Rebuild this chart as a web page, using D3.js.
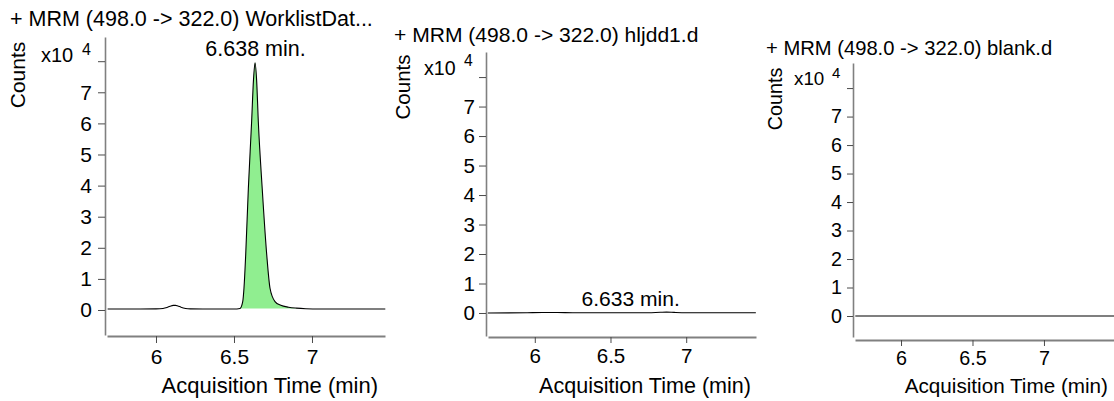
<!DOCTYPE html>
<html>
<head>
<meta charset="utf-8">
<script src="https://cdn.jsdelivr.net/npm/d3@7"></script>
<style>
  html, body { margin: 0; padding: 0; background: #fff; }
  svg { display: block; font-family: "Liberation Sans", Arial, sans-serif; }
</style>
</head>
<body>
<svg id="chart" width="1114" height="401"></svg>
<script>
// ---------- data ----------
const panelTitles = [
  "+ MRM (498.0 -> 322.0) WorklistDat...",
  "+ MRM (498.0 -> 322.0) hljdd1.d",
  "+ MRM (498.0 -> 322.0) blank.d"
];
const peakLabels = ["6.638 min.", "6.633 min.", null];
const peakTimes = [6.638, 6.633, null];
const xTicks = [6, 6.5, 7];
const xTickLabels = ["6", "6.5", "7"];
const yTicks = [0, 1, 2, 3, 4, 5, 6, 7, 8];
const yTickLabels = ["0", "1", "2", "3", "4", "5", "6", "7", ""];
const xAxisTitle = "Acquisition Time (min)";
const yAxisTitle = "Counts";
const yScaleLabel = "x10";
const yScaleExp = "4";

// sample 1 (counts x10^4)
const times1 = [5.69, 5.80, 5.90, 6.00, 6.045, 6.07, 6.09, 6.11, 6.125, 6.14, 6.16, 6.19, 6.22, 6.30, 6.40, 6.50,
  6.538, 6.556, 6.564, 6.575, 6.592, 6.613, 6.625, 6.635, 6.645, 6.656, 6.681, 6.710, 6.731, 6.763,
  6.80, 6.85, 6.90, 6.96, 7.05, 7.20, 7.47];
const counts1 = [0.03, 0.03, 0.03, 0.035, 0.05, 0.08, 0.12, 0.15, 0.15, 0.13, 0.09, 0.05, 0.035, 0.03, 0.03, 0.03,
  0.05, 0.27, 0.7, 1.77, 3.9, 6.05, 7.4, 7.95, 7.4, 6.05, 3.9, 1.77, 0.7, 0.27,
  0.15, 0.09, 0.06, 0.04, 0.03, 0.03, 0.03];
const fillStart1 = 6.538, fillEnd1 = 6.96;

// sample 2 (hljdd1.d)
const times2 = [5.69, 5.95, 6.05, 6.15, 6.25, 6.50, 6.75, 6.83, 6.87, 6.92, 7.00, 7.46];
const counts2 = [0.0, 0.01, 0.015, 0.015, 0.01, 0.01, 0.01, 0.025, 0.03, 0.02, 0.01, 0.01];

// sample 3 (blank.d)
const times3 = [5.68, 6.00, 6.50, 7.00, 7.49];
const counts3 = [0.0, 0.0, 0.0, 0.0, 0.0];

const seriesTimes = [times1, times2, times3];
const seriesCounts = [counts1, counts2, counts3];

// ---------- layout ----------
const layouts = [
  { s: 1.0, xDom: [5.686, 7.468], xRange: [107, 385], yDom: [-0.804, 8.778], yRange: [335, 37],
    xAxisY: 336, yAxisX: 105, yTick: 7, yPad: 6, xTick: 7, xPad: 6,
    titleX: 10, titleY: 26, countsX: 25, countsY: 75,
    x10X: 41, x10Y: 62, expX: 82, expY: 55, axTitleX: 378, axTitleY: 393 },
  { s: 0.98, xDom: [5.691, 7.461], xRange: [488, 756], yDom: [-0.78, 8.85], yRange: [336, 52],
    xAxisY: 337, yAxisX: 486, yTick: 7, yPad: 4, xTick: 6, xPad: 5,
    titleX: 394, titleY: 42, countsX: 410, countsY: 87,
    x10X: 424, x10Y: 75, expX: 464, expY: 66, axTitleX: 751, axTitleY: 393 },
  { s: 0.94, xDom: [5.678, 7.490], xRange: [855, 1114], yDom: [-0.737, 8.88], yRange: [337, 63],
    xAxisY: 340, yAxisX: 853, yTick: 6, yPad: 5, xTick: 6, xPad: 5,
    titleX: 766, titleY: 55, countsX: 782, countsY: 99,
    x10X: 794, x10Y: 85, expX: 832, expY: 78, axTitleX: 1108, axTitleY: 393 }
];
const baseFont = { title: 21.5, yTick: 21, xTick: 21, axTitle: 22, counts: 21, x10: 20, exp: 16, peak: 21.5 };

const svg = d3.select("#chart");

layouts.forEach((L, i) => {
  const f = k => baseFont[k] * L.s;
  const g = svg.append("g");
  const x = d3.scaleLinear().domain(L.xDom).range(L.xRange);
  const y = d3.scaleLinear().domain(L.yDom).range(L.yRange);

  // title
  g.append("text").attr("x", L.titleX).attr("y", L.titleY)
    .attr("font-size", f("title")).attr("fill", "#000").text(panelTitles[i]);

  // y axis
  const yAxis = d3.axisLeft(y).tickValues(yTicks)
    .tickFormat((d, k) => yTickLabels[k]).tickSize(L.yTick).tickPadding(L.yPad).tickSizeOuter(0);
  const ya = g.append("g").attr("transform", `translate(${L.yAxisX},0)`).call(yAxis);
  ya.select(".domain").attr("stroke", "#808080").attr("stroke-width", 1.6);
  ya.selectAll(".tick line").attr("stroke", "#4a4a4a");
  ya.selectAll(".tick text").attr("font-size", f("yTick")).attr("fill", "#000")
    .attr("font-family", "Liberation Sans, Arial, sans-serif");

  // x axis
  const xAxis = d3.axisBottom(x).tickValues(xTicks)
    .tickFormat((d, k) => xTickLabels[k]).tickSize(L.xTick).tickPadding(L.xPad).tickSizeOuter(0);
  const xa = g.append("g").attr("transform", `translate(0,${L.xAxisY})`).call(xAxis);
  xa.select(".domain").attr("stroke", "#808080").attr("stroke-width", 2);
  xa.selectAll(".tick line").attr("stroke", "#4a4a4a");
  xa.selectAll(".tick text").attr("font-size", f("xTick")).attr("fill", "#000")
    .attr("font-family", "Liberation Sans, Arial, sans-serif");

  // axis titles
  g.append("text").attr("x", L.axTitleX).attr("y", L.axTitleY)
    .attr("text-anchor", "end").attr("font-size", f("axTitle")).text(xAxisTitle);
  g.append("text").attr("transform", `translate(${L.countsX},${L.countsY}) rotate(-90)`)
    .attr("text-anchor", "middle").attr("font-size", f("counts")).text(yAxisTitle);
  g.append("text").attr("x", L.x10X).attr("y", L.x10Y).attr("font-size", f("x10")).text(yScaleLabel);
  g.append("text").attr("x", L.expX).attr("y", L.expY).attr("font-size", f("exp")).text(yScaleExp);

  // data
  const pts = seriesTimes[i].map((t, k) => ({ t, v: seriesCounts[i][k] }));
  if (i === 0) {
    const fillPts = pts.filter(p => p.t >= fillStart1 && p.t <= fillEnd1);
    const base = fillPts[0].v;
    const area = d3.area().x(p => x(p.t)).y0(y(base)).y1(p => y(p.v)).curve(d3.curveMonotoneX);
    g.append("path").datum(fillPts).attr("d", area)
      .attr("fill", "#90ee90").attr("stroke", "none");
  }
  const line = d3.line().x(p => x(p.t)).y(p => y(p.v)).curve(d3.curveMonotoneX);
  g.append("path").datum(pts).attr("d", line)
    .attr("fill", "none").attr("stroke", "#000").attr("stroke-width", 1.1);

  // peak label
  if (peakLabels[i]) {
    const peakV = d3.max(seriesCounts[i]);
    g.append("text").attr("x", x(peakTimes[i])).attr("y", y(peakV) - 6.5)
      .attr("text-anchor", "middle").attr("font-size", f("peak")).text(peakLabels[i]);
  }
});
</script>
</body>
</html>
